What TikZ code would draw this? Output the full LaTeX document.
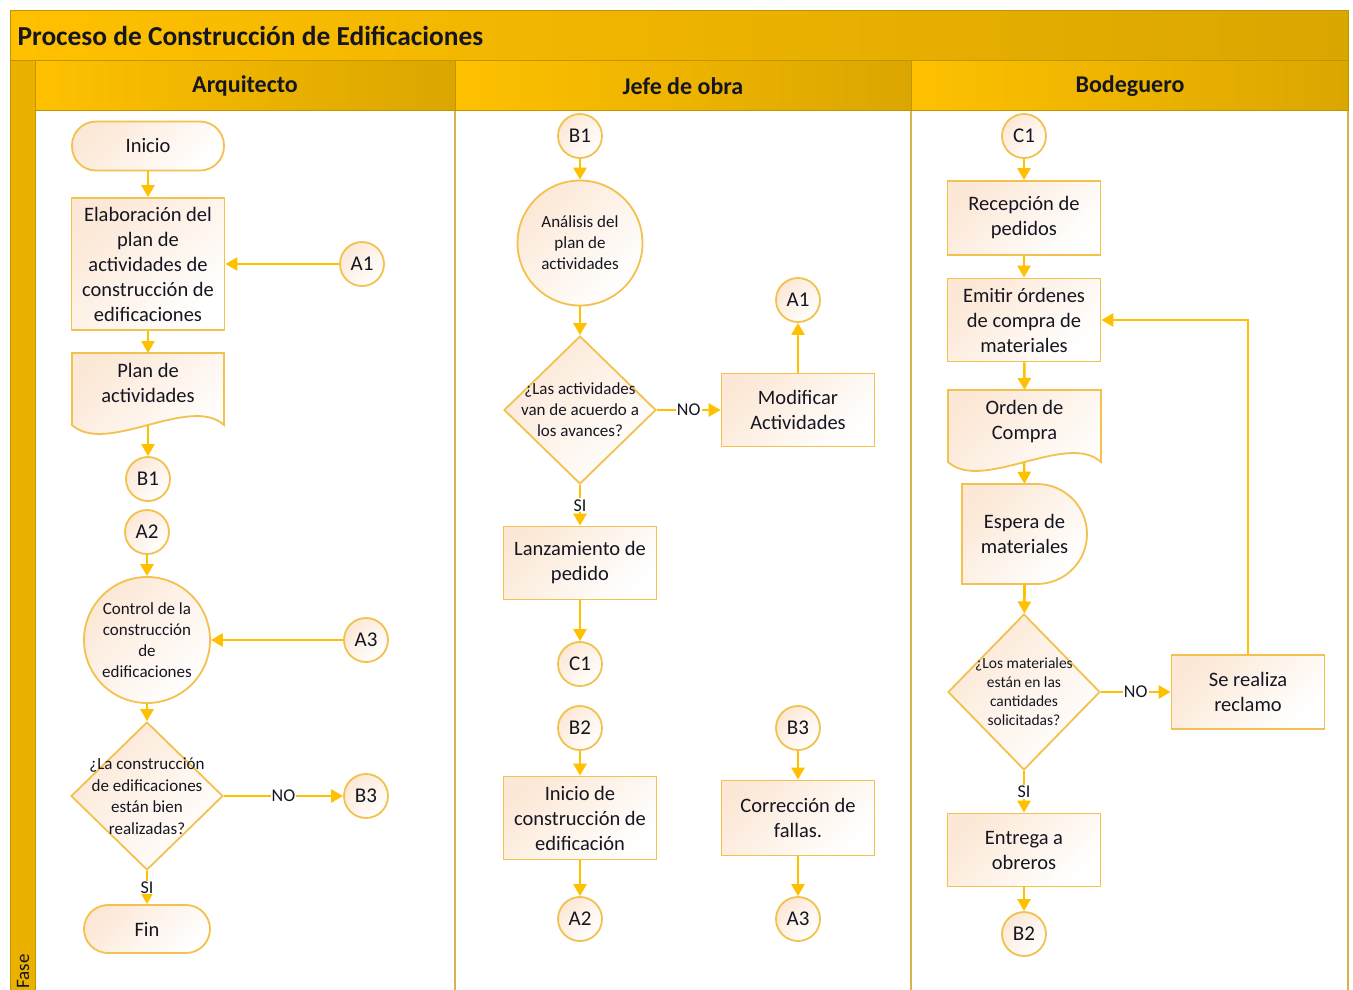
\documentclass[tikz,border=0pt]{standalone}
\usepackage{fontspec}
\setmainfont{Carlito}
\usetikzlibrary{shapes.geometric,arrows.meta,calc}

\definecolor{gold}{HTML}{FFC000}
\definecolor{golddk}{HTML}{DAA600}
\definecolor{goldedge}{HTML}{C29400}
\definecolor{laneedge}{HTML}{D8B24A}
\definecolor{shapeedge}{HTML}{F2C14E}
\definecolor{cream}{HTML}{FCE8D6}
\definecolor{ink}{HTML}{161622}

\tikzset{
  every node/.style={text=ink},
  flow/.style={draw=shapeedge, line width=1.8pt, top color=cream, bottom color=white, shading angle=45},
  box/.style={flow, rectangle, minimum width=153pt, minimum height=74pt, align=center,
    inner sep=1pt, font=\fontsize{20.5}{25}\selectfont},
  term/.style={flow, rectangle, rounded corners=24pt, minimum width=152pt, minimum height=49pt,
    font=\fontsize{20.5}{24}\selectfont},
  conn/.style={flow, circle, minimum size=44pt, inner sep=0pt, font=\fontsize{21}{24}\selectfont},
  bigcirc/.style={flow, circle, minimum size=126pt, inner sep=0pt},
  decision/.style={flow, diamond, minimum width=152pt, minimum height=148pt, inner sep=0pt},
  doctext/.style={align=center, inner sep=0pt, font=\fontsize{20.5}{25}\selectfont},
  arr/.style={draw=gold, line width=2.6pt, -{Triangle[length=12pt,width=13pt]}},
  lbl/.style={fill=white, inner sep=1pt, font=\fontsize{18}{18}\selectfont},
  lanehead/.style={left color=gold, right color=golddk, draw=goldedge, line width=1pt},
  headtext/.style={font=\fontsize{24}{24}\bfseries},
}

\begin{document}
\begin{tikzpicture}[x=1pt, y=-1pt]
\useasboundingbox (0,0) rectangle (1353,989);
\clip (0,0) rectangle (1353,989);

% ---- pool frame ----
\path[lanehead] (10,10) rectangle (1348,60);
\node[anchor=west, font=\fontsize{27.4}{28}\bfseries] (title) at (14,36) {Proceso de Construcción de Edificaciones};

\path[fill=white, draw=laneedge, line width=1.2pt] (35,110) rectangle (455,1000);
\path[fill=white, draw=laneedge, line width=1.2pt] (455,110) rectangle (911,1000);
\path[fill=white, draw=laneedge, line width=1.2pt] (911,110) rectangle (1348,1000);

\path[lanehead] (35,60) rectangle (455,110);
\path[lanehead] (455,60) rectangle (911,110);
\path[lanehead] (911,60) rectangle (1348,110);
\node[headtext] (h1) at (245,86) {Arquitecto};
\node[headtext] (h2) at (683,86) {Jefe de obra};
\node[headtext] (h3) at (1130,86) {Bodeguero};

\path[fill=gold!92!black, draw=goldedge, line width=1pt] (10,60) rectangle (35,1000);
\node[rotate=90, anchor=west, font=\fontsize{19}{19}\selectfont] (fase) at (23,992) {Fase};

% ---- Arquitecto ----
\node[term] (inicio) at (148,146) {Inicio};
\node[box, minimum height=132pt] (elab) at (148,264)
  {Elaboración del\\plan de\\actividades de\\construcción de\\edificaciones};
\node[conn] (a1l) at (362,264) {A1};

\path[flow] (72,353) -- (224,353) -- (224,425)
  .. controls (190,394) and (106,456) .. (72,425) -- cycle;
\node[doctext, minimum width=152pt, minimum height=60pt, anchor=north] (plan) at (148,353)
  {Plan de\\actividades};
\coordinate (planb) at (148,425);

\node[conn] (b1l) at (148,479) {B1};
\node[conn] (a2l) at (147,532) {A2};
\node[bigcirc, label={[align=center, font=\fontsize{17}{21}\selectfont]center:{Control de la\\construcción\\de\\edificaciones}}] (ctrl) at (147,640) {};
\node[conn] (a3l) at (366,640) {A3};
\node[decision, label={[align=center, font=\fontsize{17}{21.5}\selectfont]center:{¿La construcción\\de edificaciones\\están bien\\realizadas?}}] (d1) at (147,796) {};
\node[conn] (b3l) at (366,796) {B3};
\node[term, minimum width=126pt, minimum height=48pt] (fin) at (147,929) {Fin};

\draw[arr] (inicio) -- (elab);
\draw[arr] (a1l) -- (elab);
\draw[arr] (elab) -- (plan.north);
\draw[arr] (planb) -- (b1l);
\draw[arr] (a2l) -- (ctrl);
\draw[arr] (a3l) -- (ctrl);
\draw[arr] (ctrl) -- (d1);
\draw[arr] (d1.east) -- node[lbl] {NO} (b3l.west);
\draw[arr] (d1.south) -- node[lbl] {SI} (fin.north);

% ---- Jefe de obra ----
\node[conn] (b1m) at (580,136) {B1};
\node[bigcirc, minimum size=125pt, label={[align=center, font=\fontsize{17}{21}\selectfont]center:{Análisis del\\plan de\\actividades}}] (anal) at (580,243) {};
\node[decision, label={[align=center, font=\fontsize{17}{21}\selectfont]center:{¿Las actividades\\van de acuerdo a\\los avances?}}] (d2) at (580,410) {};
\node[box, minimum height=73pt] (modif) at (798,410) {Modificar\\Actividades};
\node[conn] (a1m) at (798,300) {A1};
\node[box, minimum height=73pt] (lanz) at (580,563) {Lanzamiento de\\pedido};
\node[conn] (c1m) at (580,664) {C1};
\node[conn] (b2m) at (580,728) {B2};
\node[box, minimum height=83pt] (inic) at (580,818) {Inicio de\\construcción de\\edificación};
\node[conn] (a2m) at (580,919) {A2};
\node[conn] (b3m) at (798,728) {B3};
\node[box, minimum height=75pt] (corr) at (798,818) {Corrección de\\fallas.};
\node[conn] (a3m) at (798,919) {A3};

\draw[arr] (b1m) -- (anal);
\draw[arr] (anal) -- (d2);
\draw[arr] (d2.east) -- node[lbl] {NO} (modif.west);
\draw[arr] (modif) -- (a1m);
\draw[arr] (d2.south) -- node[lbl] {SI} (lanz.north);
\draw[arr] (lanz) -- (c1m);
\draw[arr] (b2m) -- (inic);
\draw[arr] (inic) -- (a2m);
\draw[arr] (b3m) -- (corr);
\draw[arr] (corr) -- (a3m);

% ---- Bodeguero ----
\node[conn] (c1r) at (1024,136) {C1};
\node[box, minimum height=74pt] (recep) at (1024,218) {Recepción de\\pedidos};
\node[box, minimum height=83pt] (emit) at (1024,320) {Emitir órdenes\\de compra de\\materiales};

\path[flow] (948,390) -- (1101,390) -- (1101,462)
  .. controls (1067,431) and (982,493) .. (948,462) -- cycle;
\node[doctext, minimum width=153pt, minimum height=62pt, anchor=north] (orden) at (1024.5,390)
  {Orden de\\Compra};
\coordinate (ordenb) at (1024,462);

\path[flow] (962,484) -- (1037,484) arc[start angle=90, end angle=-90, radius=50pt]
  -- (962,584) -- cycle;
\node[doctext, minimum width=125pt, minimum height=100pt] (esp) at (1024.5,534)
  {Espera de\\materiales};

\node[decision, minimum height=156pt, label={[align=center, font=\fontsize{15.5}{19}\selectfont]center:{¿Los materiales\\están en las\\cantidades\\solicitadas?}}] (d3) at (1024,692) {};
\node[box, minimum height=74pt] (recl) at (1248,692) {Se realiza\\reclamo};
\node[box, minimum height=73pt] (entr) at (1024,850) {Entrega a\\obreros};
\node[conn] (b2r) at (1024,934) {B2};

\draw[arr] (c1r) -- (recep);
\draw[arr] (recep) -- (emit);
\draw[arr] (emit) -- (orden.north);
\draw[arr] (ordenb) -- (esp.north);
\draw[arr] (esp.south) -- (d3);
\draw[arr] (d3.east) -- node[lbl] {NO} (recl.west);
\draw[arr] (recl.north) |- (emit.east);
\draw[arr] (d3.south) -- node[lbl] {SI} (entr.north);
\draw[arr] (entr) -- (b2r);
\end{tikzpicture}
\end{document}
